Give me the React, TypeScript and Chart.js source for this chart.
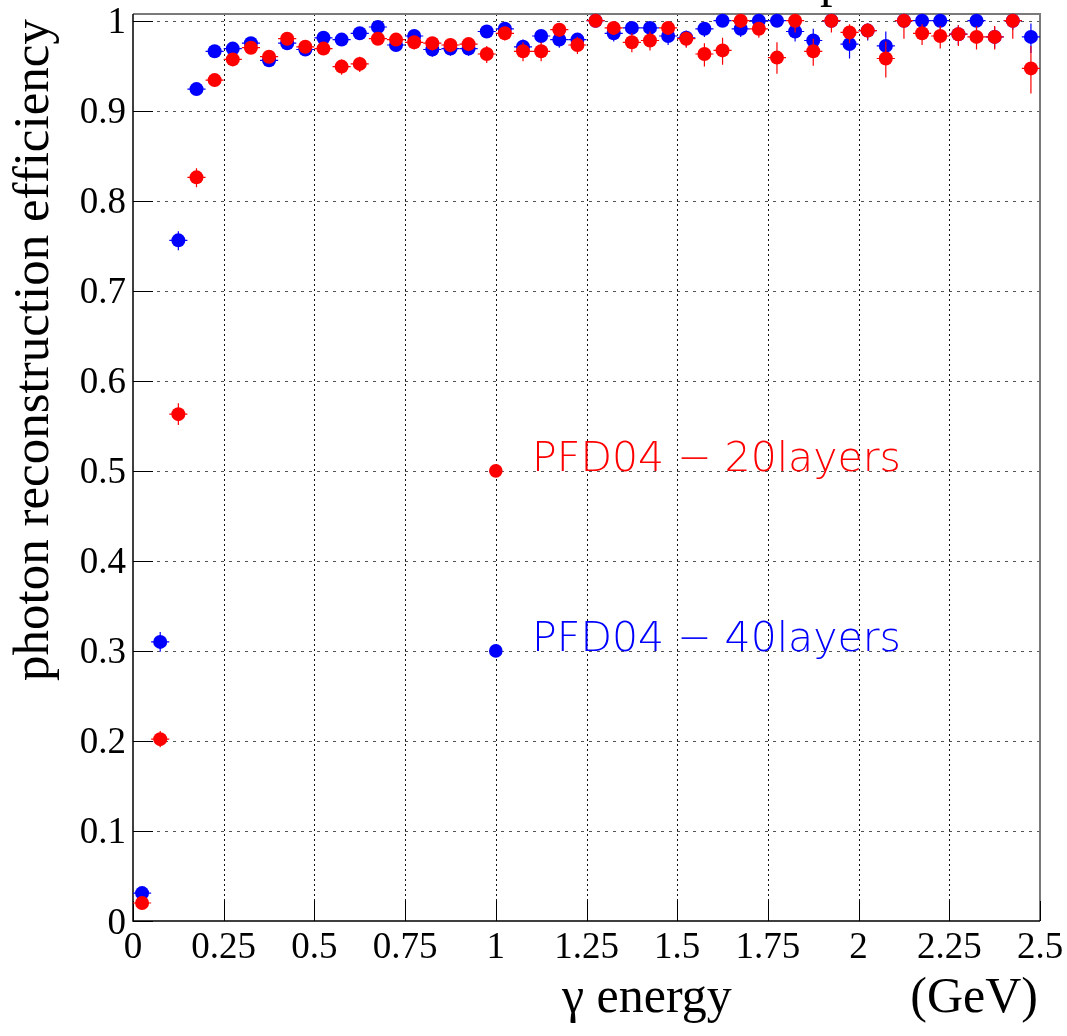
import { useEffect, useRef } from "react";
import { Chart, registerables } from "chart.js";

Chart.register(...registerables);

// ---------- data ----------
const BIN_CENTERS = [
  0.025, 0.075, 0.125, 0.175, 0.225, 0.275, 0.325, 0.375, 0.425, 0.475,
  0.525, 0.575, 0.625, 0.675, 0.725, 0.775, 0.825, 0.875, 0.925, 0.975,
  1.025, 1.075, 1.125, 1.175, 1.225, 1.275, 1.325, 1.375, 1.425, 1.475,
  1.525, 1.575, 1.625, 1.675, 1.725, 1.775, 1.825, 1.875, 1.925, 1.975,
  2.025, 2.075, 2.125, 2.175, 2.225, 2.275, 2.325, 2.375, 2.425, 2.475,
];
const BIN_HALF_WIDTH = 0.025;

const EFF_20 = [
  0.020, 0.202, 0.563, 0.826, 0.934, 0.957, 0.970, 0.960, 0.980, 0.971,
  0.969, 0.949, 0.952, 0.980, 0.979, 0.976, 0.975, 0.973, 0.974, 0.963,
  0.986, 0.966, 0.966, 0.990, 0.973, 1.000, 0.992, 0.976, 0.978, 0.992,
  0.980, 0.963, 0.967, 1.000, 0.991, 0.959, 1.000, 0.966, 1.000, 0.987,
  0.989, 0.958, 1.000, 0.986, 0.983, 0.985, 0.982, 0.982, 1.000, 0.947,
];
const EFF_20_ERR_LO = [
  0.004, 0.009, 0.012, 0.011, 0.007, 0.006, 0.006, 0.007, 0.006, 0.007,
  0.007, 0.009, 0.009, 0.006, 0.007, 0.008, 0.008, 0.008, 0.008, 0.010,
  0.008, 0.011, 0.011, 0.008, 0.010, 0.006, 0.008, 0.011, 0.011, 0.008,
  0.010, 0.014, 0.016, 0.008, 0.010, 0.018, 0.013, 0.016, 0.013, 0.012,
  0.010, 0.021, 0.020, 0.013, 0.014, 0.013, 0.014, 0.014, 0.020, 0.028,
];
const EFF_20_ERR_HI = [
  0.005, 0.009, 0.012, 0.010, 0.006, 0.005, 0.005, 0.006, 0.005, 0.006,
  0.006, 0.008, 0.008, 0.005, 0.006, 0.007, 0.007, 0.007, 0.007, 0.009,
  0.006, 0.010, 0.010, 0.006, 0.009, 0.000, 0.005, 0.010, 0.010, 0.005,
  0.008, 0.012, 0.014, 0.000, 0.007, 0.017, 0.000, 0.014, 0.000, 0.009,
  0.008, 0.019, 0.000, 0.010, 0.011, 0.010, 0.012, 0.012, 0.000, 0.025,
];

const EFF_40 = [
  0.031, 0.310, 0.756, 0.924, 0.966, 0.969, 0.975, 0.956, 0.975, 0.968,
  0.981, 0.979, 0.986, 0.993, 0.973, 0.983, 0.968, 0.969, 0.969, 0.988,
  0.991, 0.971, 0.983, 0.979, 0.979, 1.000, 0.986, 0.992, 0.992, 0.983,
  0.981, 0.991, 1.000, 0.991, 1.000, 1.000, 0.988, 0.978, 1.000, 0.974,
  0.989, 0.972, 1.000, 1.000, 1.000, 0.985, 1.000, 0.982, 1.000, 0.982,
];
const EFF_40_ERR_LO = [
  0.004, 0.011, 0.011, 0.006, 0.005, 0.005, 0.005, 0.006, 0.005, 0.006,
  0.005, 0.006, 0.005, 0.004, 0.007, 0.006, 0.008, 0.008, 0.008, 0.006,
  0.006, 0.009, 0.008, 0.009, 0.009, 0.005, 0.009, 0.008, 0.008, 0.010,
  0.010, 0.009, 0.006, 0.009, 0.006, 0.007, 0.011, 0.016, 0.008, 0.016,
  0.011, 0.018, 0.008, 0.009, 0.009, 0.012, 0.010, 0.013, 0.010, 0.018,
];
const EFF_40_ERR_HI = [
  0.005, 0.011, 0.010, 0.005, 0.004, 0.004, 0.004, 0.005, 0.004, 0.005,
  0.004, 0.005, 0.004, 0.003, 0.006, 0.005, 0.007, 0.007, 0.007, 0.005,
  0.004, 0.008, 0.006, 0.007, 0.007, 0.000, 0.006, 0.005, 0.005, 0.008,
  0.008, 0.006, 0.000, 0.006, 0.000, 0.000, 0.008, 0.013, 0.000, 0.013,
  0.008, 0.016, 0.000, 0.000, 0.000, 0.010, 0.000, 0.011, 0.000, 0.015,
];

const X_TICKS = [0, 0.25, 0.5, 0.75, 1, 1.25, 1.5, 1.75, 2, 2.25, 2.5];
const X_TICK_LABELS = ["0", "0.25", "0.5", "0.75", "1", "1.25", "1.5", "1.75", "2", "2.25", "2.5"];
const Y_TICKS = [0, 0.1, 0.2, 0.3, 0.4, 0.5, 0.6, 0.7, 0.8, 0.9, 1];
const Y_TICK_LABELS = ["0", "0.1", "0.2", "0.3", "0.4", "0.5", "0.6", "0.7", "0.8", "0.9", "1"];

const LEGEND_LABELS = ["PFD04 \u2212 20layers", "PFD04 \u2212 40layers"];
const LEGEND_MARKER_X = [1.0, 1.0];
const LEGEND_MARKER_Y = [0.5, 0.3];
const LEGEND_TEXT_X = 1.1;

const Y_TITLE = "photon reconstruction efficiency";
const X_TITLE = "\u03b3 energy";
const X_UNIT = "(GeV)";
const TOP_TITLE_FRAGMENT = "p";

const RED = "#ff0000";
const BLUE = "#0000ff";

const W = 1067;
const H = 1036;

const SERIF = '"Liberation Serif", "Times New Roman", serif';

const rootPlugin = {
  id: "rootStyle",
  beforeDatasetsDraw(chart: any) {
    const { ctx, chartArea: a, scales } = chart;
    const xs = scales.x;
    const ys = scales.y;
    ctx.save();
    // grid (dotted)
    ctx.lineWidth = 1;
    ctx.strokeStyle = "#555";
    ctx.setLineDash([3, 5]);
    for (const v of Y_TICKS) {
      if (v === 0) continue;
      const y = Math.round(ys.getPixelForValue(v)) + 0.5;
      ctx.beginPath();
      ctx.moveTo(a.left, y);
      ctx.lineTo(a.right, y);
      ctx.stroke();
    }
    ctx.strokeStyle = "#111";
    ctx.setLineDash([2, 3]);
    for (const v of X_TICKS) {
      if (v === 0 || v === 2.5) continue;
      const x = Math.round(xs.getPixelForValue(v)) + 0.5;
      ctx.beginPath();
      ctx.moveTo(x, a.top);
      ctx.lineTo(x, a.bottom);
      ctx.stroke();
    }
    ctx.setLineDash([]);
    // frame top/right (gray)
    ctx.strokeStyle = "#7a7a7a";
    ctx.lineWidth = 2;
    ctx.beginPath();
    ctx.moveTo(a.left, a.top);
    ctx.lineTo(a.right, a.top);
    ctx.lineTo(a.right, a.bottom);
    ctx.stroke();
    // axes (black)
    ctx.strokeStyle = "#000";
    ctx.lineWidth = 1.5;
    ctx.beginPath();
    ctx.moveTo(a.left, a.top);
    ctx.lineTo(a.left, a.bottom);
    ctx.lineTo(a.right, a.bottom);
    ctx.stroke();
    // ticks (inward)
    ctx.lineWidth = 1;
    for (const v of Y_TICKS) {
      const y = Math.round(ys.getPixelForValue(v)) + 0.5;
      ctx.beginPath();
      ctx.moveTo(a.left, y);
      ctx.lineTo(a.left + 20, y);
      ctx.stroke();
    }
    for (const v of X_TICKS) {
      const x = Math.round(xs.getPixelForValue(v)) + 0.5;
      ctx.beginPath();
      ctx.moveTo(x, a.bottom);
      ctx.lineTo(x, a.bottom - 20);
      ctx.stroke();
    }
    ctx.restore();
  },
  beforeDatasetDraw(chart: any, args: any) {
    const ds = chart.data.datasets[args.index];
    if (!ds.errLo) return;
    const { ctx, scales } = chart;
    const xs = scales.x;
    const ys = scales.y;
    ctx.save();
    ctx.strokeStyle = ds.backgroundColor;
    ctx.lineWidth = 1.2;
    ds.data.forEach((p: any, i: number) => {
      const x = xs.getPixelForValue(p.x);
      const y = ys.getPixelForValue(p.y);
      const x0 = xs.getPixelForValue(p.x - BIN_HALF_WIDTH);
      const x1 = xs.getPixelForValue(p.x + BIN_HALF_WIDTH);
      const yLo = ys.getPixelForValue(p.y - ds.errLo[i]);
      const yHi = ys.getPixelForValue(p.y + ds.errHi[i]);
      ctx.beginPath();
      ctx.moveTo(x0, y);
      ctx.lineTo(x1, y);
      ctx.moveTo(x, yLo);
      ctx.lineTo(x, yHi);
      ctx.stroke();
    });
    ctx.restore();
  },
  afterDatasetsDraw(chart: any) {
    const { ctx, chartArea: a, scales } = chart;
    const xs = scales.x;
    const ys = scales.y;
    ctx.save();
    ctx.fillStyle = "#000";
    // tick labels
    ctx.font = `37px ${SERIF}`;
    ctx.textBaseline = "alphabetic";
    ctx.textAlign = "right";
    Y_TICKS.forEach((v, i) => {
      const y = ys.getPixelForValue(v);
      ctx.fillText(Y_TICK_LABELS[i], a.left - 7, y + 12.5);
    });
    ctx.textAlign = "center";
    X_TICKS.forEach((v, i) => {
      const x = xs.getPixelForValue(v);
      ctx.fillText(X_TICK_LABELS[i], x, a.bottom + 37);
    });
    // axis titles
    ctx.font = `51px ${SERIF}`;
    ctx.save();
    ctx.translate(48, 350);
    ctx.rotate(-Math.PI / 2);
    ctx.textAlign = "center";
    ctx.fillText(Y_TITLE, 0, 0);
    ctx.restore();
    ctx.font = `50px ${SERIF}`;
    ctx.textAlign = "left";
    ctx.fillText(X_TITLE, 562, 1012);
    ctx.textAlign = "right";
    ctx.fillText(X_UNIT, a.right - 2, 1012);
    // cut-off title fragment at the top
    ctx.textAlign = "left";
    ctx.fillText(TOP_TITLE_FRAGMENT, 820, -4);
    // legend texts
    ctx.font = `200 41px "DejaVu Sans", sans-serif`;
    ctx.textAlign = "left";
    const colors = [RED, BLUE];
    LEGEND_LABELS.forEach((t, i) => {
      ctx.fillStyle = colors[i];
      ctx.fillText(t, xs.getPixelForValue(LEGEND_TEXT_X), ys.getPixelForValue(LEGEND_MARKER_Y[i]));
    });
    ctx.restore();
  },
};

export default function App() {
  const ref = useRef<HTMLCanvasElement | null>(null);
  useEffect(() => {
    if (!ref.current) return;
    const pts = (vals: number[]) => vals.map((v, i) => ({ x: BIN_CENTERS[i], y: v }));
    const chart = new Chart(ref.current, {
      type: "scatter",
      data: {
        datasets: [
          {
            label: "legend20",
            data: [{ x: LEGEND_MARKER_X[0], y: LEGEND_MARKER_Y[0] }],
            backgroundColor: RED,
            borderColor: RED,
            pointRadius: 6.8,
            pointBorderWidth: 0,
            clip: false,
          } as any,
          {
            label: "legend40",
            data: [{ x: LEGEND_MARKER_X[1], y: LEGEND_MARKER_Y[1] }],
            backgroundColor: BLUE,
            borderColor: BLUE,
            pointRadius: 6.8,
            pointBorderWidth: 0,
            clip: false,
          } as any,
          {
            label: "PFD04 - 20layers",
            data: pts(EFF_20),
            backgroundColor: RED,
            borderColor: RED,
            pointRadius: 7,
            pointBorderWidth: 0,
            errLo: EFF_20_ERR_LO,
            errHi: EFF_20_ERR_HI,
            clip: false,
          } as any,
          {
            label: "PFD04 - 40layers",
            data: pts(EFF_40),
            backgroundColor: BLUE,
            borderColor: BLUE,
            pointRadius: 7,
            pointBorderWidth: 0,
            errLo: EFF_40_ERR_LO,
            errHi: EFF_40_ERR_HI,
            clip: false,
          } as any,
        ],
      },
      options: {
        animation: false,
        responsive: false,
        events: [],
        layout: { padding: { left: 133, right: 27, top: 14, bottom: H - 921 } },
        scales: {
          x: { type: "linear", min: 0, max: 2.5, display: false },
          y: { type: "linear", min: 0, max: 1.00744, display: false },
        },
        plugins: { legend: { display: false }, tooltip: { enabled: false } },
      },
      plugins: [rootPlugin],
    });
    return () => chart.destroy();
  }, []);
  return (
    <div style={{ position: "fixed", left: 0, top: 0, width: W, height: H, background: "#fff" }}>
      <canvas ref={ref} width={W} height={H} style={{ width: W, height: H, display: "block" }} />
    </div>
  );
}
